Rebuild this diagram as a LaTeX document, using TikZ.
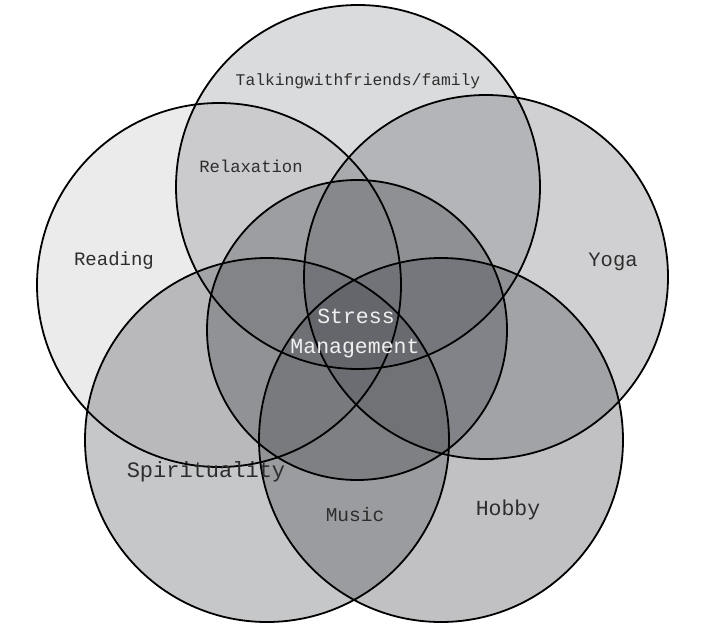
\documentclass[tikz,border=0pt]{standalone}
\usepackage{fontspec}
\setmonofont{Liberation Mono}
\definecolor{vennfill}{RGB}{72,74,80}
\definecolor{venntext}{RGB}{45,45,45}
\definecolor{centretext}{RGB}{240,240,240}

\begin{document}
\begin{tikzpicture}[x=1pt,y=-1pt,
        venn/.style={fill=vennfill, fill opacity=#1},
        rim/.style={draw=black, line width=1.8pt},
        lbl/.style={anchor=base, inner sep=0pt, text=venntext,
            font=\ttfamily\fontsize{#1}{#1}\selectfont}]
        \useasboundingbox (0,0) rectangle (706,629);
        %\draw [help lines, step=50] (0,0) grid (706,629);
        \coordinate (reading) at (219,285);
        \coordinate (talking) at (358,187);
        \coordinate (yoga) at (486,277);
        \coordinate (spirit) at (267,440);
        \coordinate (hobby) at (441,440);
        \coordinate (stress) at (357,330);

        % fills first, outlines on top
        \fill [venn=0.11] (reading) circle [radius=182];
        \fill [venn=0.20] (talking) circle [radius=182];
        \fill [venn=0.26] (yoga) circle [radius=182];
        \fill [venn=0.31] (spirit) circle [radius=182];
        \fill [venn=0.34] (hobby) circle [radius=182];
        \fill [venn=0.35] (stress) circle [radius=150];

        \foreach \c in {reading,talking,yoga,spirit,hobby}
            \draw [rim] (\c) circle [radius=182];
        \draw [rim] (stress) circle [radius=150];

        \node [lbl=16.3] (talkinglbl) at (358,85) {Talkingwithfriends/family};
        \node [lbl=17.2] (relaxlbl) at (251,172) {Relaxation};
        \node [lbl=19] (readinglbl) at (114,265) {Reading};
        \node [lbl=20.5] (yogalbl) at (613,266) {Yoga};
        \node [lbl=21.5, text=centretext] (stresslbl) at (356,323) {Stress};
        \node [lbl=21.5, text=centretext] (managelbl) at (355,353) {Management};
        \node [lbl=22] (spiritlbl) at (206,477) {Spirituality};
        \node [lbl=19.5] (musiclbl) at (355,521) {Music};
        \node [lbl=21.5] (hobbylbl) at (508,515) {Hobby};
    \end{tikzpicture}
\end{document}
